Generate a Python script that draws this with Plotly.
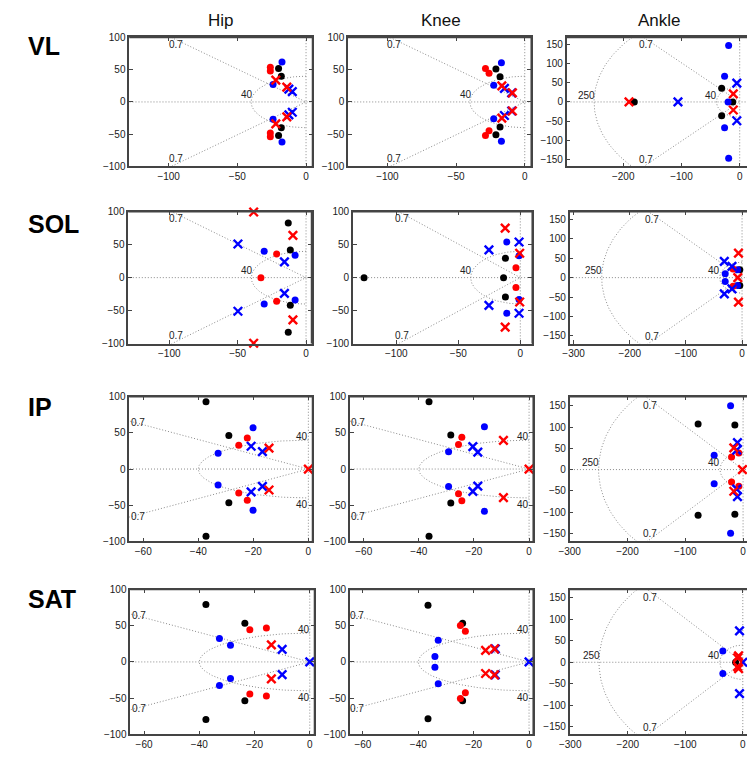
import numpy as np
import plotly.graph_objects as go

W, H = 747, 757
FONT = "Liberation Sans, Arial, Helvetica, sans-serif"

MUSCLES = ["VL", "SOL", "IP", "SAT"]
JOINTS = ["Hip", "Knee", "Ankle"]

DAMPING = [0.7]
WN_HK = [40]
WN_ANKLE = [40, 250]

TICKS_X_WIDE = [-100, -50, 0]
TICKS_X_NARROW = [-60, -40, -20, 0]
TICKS_X_ANKLE = [-300, -200, -100, 0]
TICKS_Y_100 = [-100, -50, 0, 50, 100]
TICKS_Y_150 = [-150, -100, -50, 0, 50, 100, 150]

# roots as (real, imag); imag > 0 is drawn as a conjugate pair
# k = black, r = red, b = blue ; _o = filled dot (zero), _x = cross (pole)
VL_HIP = dict(k_o=[(-20, 52), (-18, 40)], r_o=[(-26, 54), (-26, 48)],
              b_o=[(-17.5, 62), (-24, 27)], r_x=[(-22, 34), (-14, 23)],
              b_x=[(-12.5, 20), (-10, 16)])
VL_KNEE = dict(k_o=[(-21, 51), (-18, 39)], r_o=[(-28.6, 52), (-26, 44.5)],
               b_o=[(-17, 61), (-22.6, 26)], r_x=[(-16.7, 25), (-9, 14)],
               b_x=[(-14.8, 21), (-9.5, 14)])
VL_ANKLE = dict(k_o=[(-181, 0), (-31, 36), (-12, 0)], r_o=[],
                b_o=[(-19, 147), (-26, 67), (-20, 0)],
                r_x=[(-190, 0), (-11, 21)], b_x=[(-106, 0), (-5, 49)])

SOL_HIP = dict(k_o=[(-13, 83), (-11.5, 42)], r_o=[(-21.5, 36), (-33, 0)],
               b_o=[(-30.6, 40), (-8, 34)], r_x=[(-38.3, 99.5), (-9.6, 64)],
               b_x=[(-49.8, 51), (-15.8, 24)])
SOL_KNEE = dict(k_o=[(-126, 0), (-12, 29.5), (-13.5, 0)], r_o=[(-3.5, 15)],
                b_o=[(-10.9, 54), (-1, 33)], r_x=[(-12.2, 75), (-0.5, 37)],
                b_x=[(-25.3, 42), (-1, 54)])
SOL_ANKLE = dict(k_o=[(-4, 20)], r_o=[(-16, 22)],
                 b_o=[(-30, 10), (-8, 20)], r_x=[(-6.4, 63), (-7.6, 0)],
                 b_x=[(-31.6, 42), (-18, 29)])

IP_HIP = dict(k_o=[(-37.2, 93), (-28.9, 46.5)], r_o=[(-22.2, 43), (-25.3, 33)],
              b_o=[(-20.1, 57), (-32.8, 22)], r_x=[(-14.3, 29), (0, 0)],
              b_x=[(-20.8, 31.5), (-16.7, 24)])
IP_KNEE = dict(k_o=[(-36.3, 93), (-28.4, 47)], r_o=[(-24.4, 44), (-25.6, 34)],
               b_o=[(-16.2, 58.5), (-29.2, 24)], r_x=[(-9.3, 39.5), (0, 0)],
               b_x=[(-20.4, 31), (-18.6, 23.5)])
IP_ANKLE = dict(k_o=[(-77.8, 107.5), (-14.2, 105)], r_o=[(-7.4, 39), (-19.9, 29.5)],
                b_o=[(-21.6, 150), (-50, 33.5)], r_x=[(-16, 51), (-1, 0)],
                b_x=[(-9.7, 63.5), (-11, 46)])

SAT_HIP = dict(k_o=[(-37.6, 79.5), (-23.5, 53.5)], r_o=[(-21.7, 44.5), (-15.7, 47)],
               b_o=[(-32.7, 32.5), (-28.7, 23)], r_x=[(-13.9, 23.5)],
               b_x=[(-10, 17.5), (0, 0)])
SAT_KNEE = dict(k_o=[(-36.5, 78.5), (-24, 53.5)], r_o=[(-24.8, 50.5), (-23, 42.5)],
                b_o=[(-32.8, 30), (-34, 7.5)], r_x=[(-15.7, 16), (-12.5, 18)],
                b_x=[(-12.2, 18), (0, 0)])
SAT_ANKLE = dict(k_o=[(-12.5, 0)], r_o=[], b_o=[(-34.7, 26)],
                 r_x=[(-7.4, 15), (-9, 10)], b_x=[(-5.7, 73), (0, 0)])

PANELS = [[VL_HIP, VL_KNEE, VL_ANKLE],
          [SOL_HIP, SOL_KNEE, SOL_ANKLE],
          [IP_HIP, IP_KNEE, IP_ANKLE],
          [SAT_HIP, SAT_KNEE, SAT_ANKLE]]

# ---- layout geometry (pixels) ----
ROW_BOX = [(32, 163), (209, 343), (397, 544), (593, 740)]
COL_BOX = [[(120, 306), (342, 528), (564, 747)],
           [(119, 305), (347, 529), (567, 747)],
           [(120, 306), (344, 530), (567, 747)],
           [(121, 308), (344, 530), (567, 747)]]
XRANGE = [[(-128.7, 4.7), (-128.7, 4.7), (-297, 12.5)],
          [(-130, 4), (-135, 9.6), (-307, 8.8)],
          [(-65.1, 1.5), (-65, 1.5), (-300, 6.8)],
          [(-65, 1.7), (-64.7, 1.5), (-301, 7.3)]]
YRANGE_ANKLE = [(-168, 168), (-170, 170), (-169, 171.5), (-167.5, 169)]

COLORS = {"k": "#000000", "r": "#ff0000", "b": "#0000ff"}
GRID_COLOR = "#8a8a8a"
AX_COLOR = "#444444"
AX_W = 1.5


def expand(pts):
    xs, ys = [], []
    for re, im in pts:
        xs.append(re)
        ys.append(im)
        if im != 0:
            xs.append(re)
            ys.append(-im)
    return xs, ys


fig = go.Figure()
layout = {}
annotations = []
shapes = []

for r in range(4):
    for c in range(3):
        idx = r * 3 + 1 + c
        xn = "x" if idx == 1 else f"x{idx}"
        yn = "y" if idx == 1 else f"y{idx}"
        xl = "xaxis" if idx == 1 else f"xaxis{idx}"
        yl = "yaxis" if idx == 1 else f"yaxis{idx}"
        x0p, x1p = COL_BOX[r][c]
        y0p, y1p = ROW_BOX[r]
        ankle = (c == 2)
        if ankle:
            xt, yt = TICKS_X_ANKLE, TICKS_Y_150
            yr = YRANGE_ANKLE[r]
        else:
            xt = TICKS_X_WIDE if r < 2 else TICKS_X_NARROW
            yt = TICKS_Y_100
            yr = (-100, 100)
        common = dict(showline=True, linecolor=AX_COLOR, linewidth=AX_W,
                      ticks="inside", ticklen=4, tickcolor=AX_COLOR, tickwidth=1,
                      showgrid=False, zeroline=False,
                      tickfont=dict(family=FONT, size=10, color="#1a1a1a"))
        layout[xl] = dict(common, domain=[x0p / W, min(x1p / W, 1.0)],
                          range=list(XRANGE[r][c]), tickvals=xt,
                          mirror="allticks", anchor=yn)
        layout[yl] = dict(common, domain=[1 - y1p / H, 1 - y0p / H],
                          range=list(yr), tickvals=yt,
                          mirror=False if ankle else "allticks", anchor=xn)

        # explicit box border (top, and right where visible)
        bl = dict(color=AX_COLOR, width=AX_W)
        xd, yd = xn + " domain", yn + " domain"
        shapes.append(dict(type="line", xref=xd, yref=yd, x0=0, x1=1, y0=1, y1=1,
                           line=bl, layer="above"))
        if not ankle:
            shapes.append(dict(type="line", xref=xd, yref=yd, x0=1, x1=1, y0=0, y1=1,
                               line=bl, layer="above"))

        # ---- s-plane grid ----
        big = 2000
        gl = dict(color=GRID_COLOR, width=1, dash="1px,2px")
        fig.add_trace(go.Scatter(x=[-big, big], y=[0, 0], mode="lines", line=gl,
                                 xaxis=xn, yaxis=yn, hoverinfo="skip"))
        fig.add_trace(go.Scatter(x=[0, 0], y=[-big, big], mode="lines", line=gl,
                                 xaxis=xn, yaxis=yn, hoverinfo="skip"))
        for z in DAMPING:
            s = np.sqrt(1 - z * z)
            fig.add_trace(go.Scatter(x=[-z * big, 0, -z * big], y=[s * big, 0, -s * big],
                                     mode="lines", line=gl, xaxis=xn, yaxis=yn,
                                     hoverinfo="skip"))
        th = np.linspace(np.pi / 2, 3 * np.pi / 2, 181)
        for wn in (WN_ANKLE if ankle else WN_HK):
            fig.add_trace(go.Scatter(x=wn * np.cos(th), y=wn * np.sin(th), mode="lines",
                                     line=gl, xaxis=xn, yaxis=yn, hoverinfo="skip"))

        # ---- grid labels ----
        lab = []
        if ankle:
            lab += [("0.7", -161, 150, "center", "middle"),
                    ("0.7", -161, -151, "center", "middle"),
                    ("40", -38, 1, "right", "bottom"),
                    ("250", -247, 1, "right", "bottom")]
        elif r < 2:
            lab += [("0.7", -95, 89, "center", "middle"),
                    ("0.7", -95, -88, "center", "middle"),
                    ("40", -38, 1, "right", "bottom")]
        else:
            lab += [("0.7", -62, 64.5, "center", "middle"),
                    ("0.7", -62, -65, "center", "middle"),
                    ("40", 0.3, 45.5, "right", "middle"),
                    ("40", 0.3, -49, "right", "middle")]
        for t, lx, ly, xa, ya in lab:
            annotations.append(dict(text=t, x=lx, y=ly, xref=xn, yref=yn,
                                    xanchor=xa, yanchor=ya, showarrow=False,
                                    borderpad=0,
                                    font=dict(family=FONT, size=10, color="#222222")))

        # ---- roots ----
        p = PANELS[r][c]
        for col in ["k", "b", "r"]:
            xs, ys = expand(p.get(col + "_o", []))
            if xs:
                fig.add_trace(go.Scatter(x=xs, y=ys, mode="markers", xaxis=xn, yaxis=yn,
                                         marker=dict(symbol="circle", size=7,
                                                     color=COLORS[col], line=dict(width=0)),
                                         hoverinfo="skip", cliponaxis=False))
        for col in ["k", "b", "r"]:
            xs, ys = expand(p.get(col + "_x", []))
            if xs:
                fig.add_trace(go.Scatter(x=xs, y=ys, mode="markers", xaxis=xn, yaxis=yn,
                                         marker=dict(symbol="x-thin", size=8.5,
                                                     line=dict(width=2.4, color=COLORS[col])),
                                         hoverinfo="skip", cliponaxis=False))

# column titles
for cx, t in zip([213, 436, 658], JOINTS):
    annotations.append(dict(text=t, x=cx / W, y=1 - 15 / H, xref="paper", yref="paper",
                            xanchor="center", yanchor="middle", showarrow=False,
                            font=dict(family=FONT, size=17, color="#111111")))
# row labels
for cy, t in zip([41, 221.5, 407.5, 603], MUSCLES):
    annotations.append(dict(text="<b>" + t + "</b>", x=15 / W, y=1 - cy / H,
                            xref="paper", yref="paper", xanchor="left", yanchor="middle",
                            showarrow=False,
                            font=dict(family=FONT, size=25, color="#000000")))

fig.update_layout(width=W, height=H, margin=dict(l=0, r=0, t=0, b=0),
                  paper_bgcolor="white", plot_bgcolor="white", showlegend=False,
                  annotations=annotations, shapes=shapes, **layout)
fig.write_html("out.html")
